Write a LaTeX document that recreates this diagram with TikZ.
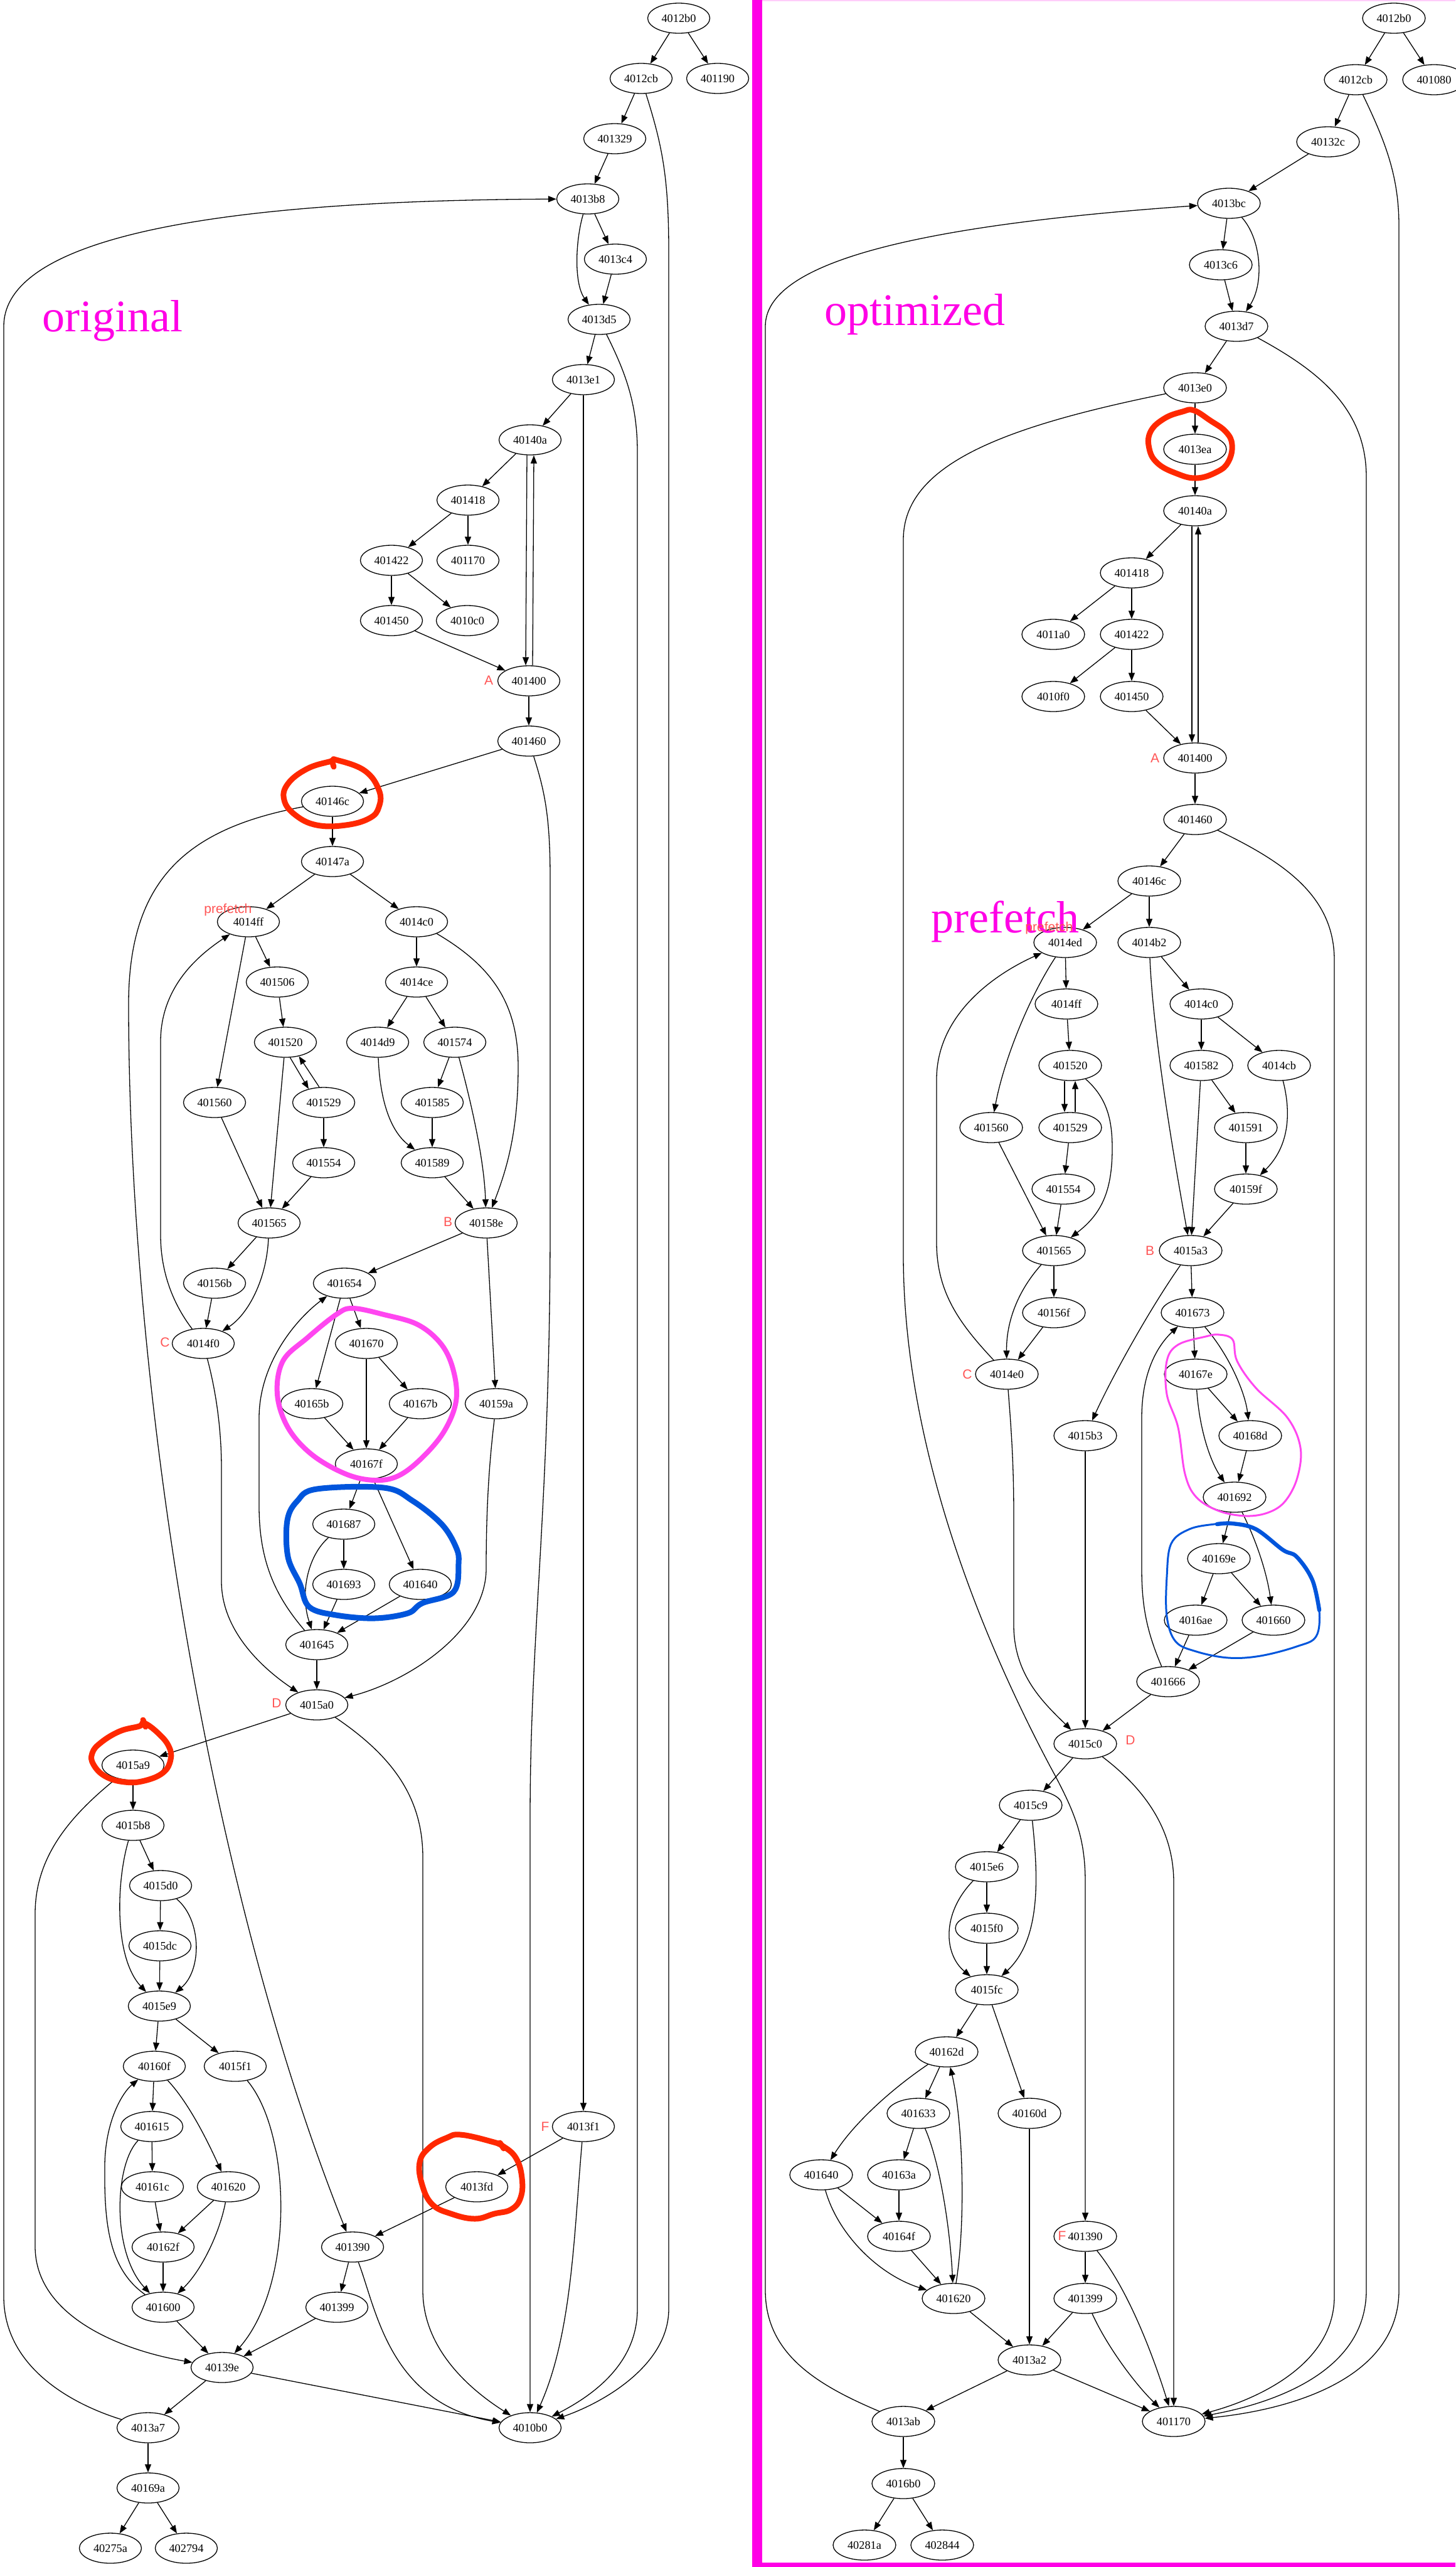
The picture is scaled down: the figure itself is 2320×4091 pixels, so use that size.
\documentclass[tikz,border=0pt]{standalone}
\usepackage{fontspec}
\setmainfont{Liberation Serif}
\newfontfamily\sansfam{Liberation Sans}
\usetikzlibrary{shapes.geometric,arrows.meta}
\definecolor{magbar}{RGB}{255,0,230}
\definecolor{magloop}{RGB}{255,70,240}
\definecolor{markred}{RGB}{255,40,0}
\definecolor{markblue}{RGB}{0,85,220}
\definecolor{lblred}{RGB}{255,85,85}
\definecolor{toppink}{RGB}{255,205,250}
\tikzset{
  gnodeL/.style={ellipse, draw, line width=0.65pt, minimum width=49.5pt, minimum height=24pt, inner sep=0pt, font=\fontsize{9.15}{10}\selectfont},
  gnodeR/.style={gnodeL, minimum width=50pt},
  gedge/.style={-{Triangle[length=6.5pt,width=5pt]}, line width=0.65pt},
  lbl/.style={font=\sansfam\fontsize{10.5}{12}\selectfont, text=lblred, inner sep=0pt},
  bigtxt/.style={font=\fontsize{36}{40}\selectfont, text=magbar, inner sep=0pt, anchor=base west},
  redmark/.style={draw=markred, line width=4.5pt, line cap=round, line join=round},
  magmark/.style={draw=magloop, line width=4pt, line cap=round, line join=round},
  bluemark/.style={draw=markblue, line width=4.5pt, line cap=round, line join=round},
}
\begin{document}
\begin{tikzpicture}[x=0.5pt,y=-0.5pt]
\useasboundingbox (0,0) rectangle (2320,4091);
\fill[white] (0,0) rectangle (2320,4091);
% frame
\fill[magbar] (1199,0) rectangle (1215,4091);
\fill[magbar] (1199,4084) rectangle (2320,4091);
\draw[toppink, line width=1pt] (1215,1) -- (2320,1);

% ---------------- LEFT GRAPH ----------------
\node[gnodeL] (L4012b0) at (1082,29) {4012b0};
\node[gnodeL] (L4012cb) at (1022,125) {4012cb};
\node[gnodeL] (L401190) at (1144,125) {401190};
\node[gnodeL] (L401329) at (980,221) {401329};
\node[gnodeL] (L4013b8) at (937,317) {4013b8};
\node[gnodeL] (L4013c4) at (981,413) {4013c4};
\node[gnodeL] (L4013d5) at (955,509) {4013d5};
\node[gnodeL] (L4013e1) at (930,605) {4013e1};
\node[gnodeL] (L40140a) at (845,701) {40140a};
\node[gnodeL] (L401418) at (746,797) {401418};
\node[gnodeL] (L401422) at (624,893) {401422};
\node[gnodeL] (L401170) at (746,893) {401170};
\node[gnodeL] (L401450) at (624,989) {401450};
\node[gnodeL] (L4010c0) at (745,989) {4010c0};
\node[gnodeL] (L401400) at (843,1085) {401400};
\node[gnodeL] (L401460) at (843,1181) {401460};
\node[gnodeL] (L40146c) at (530,1277) {40146c};
\node[gnodeL] (L40147a) at (530,1373) {40147a};
\node[gnodeL] (L4014ff) at (396,1469) {4014ff};
\node[gnodeL] (L4014c0) at (664,1469) {4014c0};
\node[gnodeL] (L401506) at (442,1565) {401506};
\node[gnodeL] (L4014ce) at (664,1565) {4014ce};
\node[gnodeL] (L401520) at (455,1661) {401520};
\node[gnodeL] (L4014d9) at (602,1661) {4014d9};
\node[gnodeL] (L401574) at (725,1661) {401574};
\node[gnodeL] (L401560) at (342,1757) {401560};
\node[gnodeL] (L401529) at (516,1757) {401529};
\node[gnodeL] (L401585) at (689,1757) {401585};
\node[gnodeL] (L401554) at (516,1853) {401554};
\node[gnodeL] (L401589) at (689,1853) {401589};
\node[gnodeL] (L401565) at (429,1949) {401565};
\node[gnodeL] (L40158e) at (775,1949) {40158e};
\node[gnodeL] (L40156b) at (342,2045) {40156b};
\node[gnodeL] (L401654) at (549,2045) {401654};
\node[gnodeL] (L4014f0) at (324,2141) {4014f0};
\node[gnodeL] (L401670) at (584,2141) {401670};
\node[gnodeL] (L40165b) at (497,2237) {40165b};
\node[gnodeL] (L40167b) at (670,2237) {40167b};
\node[gnodeL] (L40159a) at (791,2237) {40159a};
\node[gnodeL] (L40167f) at (584,2333) {40167f};
\node[gnodeL] (L401687) at (548,2429) {401687};
\node[gnodeL] (L401693) at (548,2525) {401693};
\node[gnodeL] (L401640) at (670,2525) {401640};
\node[gnodeL] (L401645) at (505,2621) {401645};
\node[gnodeL] (L4015a0) at (505,2717) {4015a0};
\node[gnodeL] (L4015a9) at (212,2813) {4015a9};
\node[gnodeL] (L4015b8) at (212,2909) {4015b8};
\node[gnodeL] (L4015d0) at (256,3005) {4015d0};
\node[gnodeL] (L4015dc) at (255,3101) {4015dc};
\node[gnodeL] (L4015e9) at (254,3197) {4015e9};
\node[gnodeL] (L40160f) at (246,3293) {40160f};
\node[gnodeL] (L4015f1) at (375,3293) {4015f1};
\node[gnodeL] (L4013f1) at (930,3389) {4013f1};
\node[gnodeL] (L401615) at (242,3389) {401615};
\node[gnodeL] (L40161c) at (243,3485) {40161c};
\node[gnodeL] (L401620) at (364,3485) {401620};
\node[gnodeL] (L4013fd) at (760,3485) {4013fd};
\node[gnodeL] (L40162f) at (260,3581) {40162f};
\node[gnodeL] (L401390) at (562,3581) {401390};
\node[gnodeL] (L401600) at (260,3677) {401600};
\node[gnodeL] (L401399) at (537,3677) {401399};
\node[gnodeL] (L40139e) at (354,3773) {40139e};
\node[gnodeL] (L4013a7) at (236,3869) {4013a7};
\node[gnodeL] (L4010b0) at (845,3869) {4010b0};
\node[gnodeL] (L40169a) at (236,3965) {40169a};
\node[gnodeL] (L40275a) at (176,4061) {40275a};
\node[gnodeL] (L402794) at (297,4061) {402794};

\foreach \a/\b in {L4012b0/L4012cb, L4012b0/L401190, L4012cb/L401329, L401329/L4013b8,
  L4013b8/L4013c4, L4013c4/L4013d5, L4013d5/L4013e1, L4013e1/L40140a, L4013e1/L4013f1,
  L40140a/L401418, L401418/L401422, L401418/L401170, L401422/L401450, L401422/L4010c0,
  L401450/L401400, L401400/L401460, L401460/L40146c, L40146c/L40147a, L40147a/L4014ff,
  L40147a/L4014c0, L4014ff/L401506, L4014ff/L401560, L401506/L401520, L401520/L401565,
  L401529/L401554, L401560/L401565, L401554/L401565, L4014c0/L4014ce, L4014ce/L4014d9,
  L4014ce/L401574, L401574/L401585, L401585/L401589, L401589/L40158e, L401565/L40156b,
  L40156b/L4014f0, L40158e/L401654, L40158e/L40159a, L401654/L40165b, L401654/L401670,
  L401670/L40167f, L401670/L40167b, L40165b/L40167f, L40167b/L40167f, L40167f/L401687,
  L40167f/L401640, L401687/L401693, L401693/L401645, L401640/L401645, L401645/L4015a0,
  L4015a0/L4015a9, L4015a9/L4015b8, L4015b8/L4015d0, L4015d0/L4015dc, L4015dc/L4015e9,
  L4015e9/L40160f, L4015e9/L4015f1, L40160f/L401615, L401615/L40161c, L40161c/L40162f,
  L401620/L40162f, L40162f/L401600, L401600/L40139e, L4013f1/L4013fd, L4013fd/L401390,
  L401390/L401399, L401399/L40139e, L40139e/L4013a7, L40139e/L4010b0, L4013a7/L40169a,
  L40169a/L40275a, L40169a/L402794}
  \draw[gedge] (\a) -- (\b);

\draw[gedge] (L4012cb) .. controls (1055,230) and (1066,280) .. (1066,400) -- (1066,3680) .. controls (1066,3770) and (960,3830) .. (L4010b0);
\draw[gedge] (L4013b8) .. controls (918,380) and (914,450) .. (L4013d5);
\draw[gedge] (L4013d5) .. controls (995,590) and (1016,640) .. (1016,720) -- (1016,3680) .. controls (1016,3770) and (940,3820) .. (L4010b0);
\draw[gedge] ([xshift=-2.5pt]L40140a.south) -- ([xshift=-2.5pt]L401400.north);
\draw[gedge] ([xshift=3pt]L401400.north) -- ([xshift=3pt]L40140a.south);
\draw[gedge] (L401460) .. controls (868,1260) and (877,1300) .. (877,1400) -- (877,1950) .. controls (877,2400) and (845,2600) .. (845,2900) -- (L4010b0);
\draw[gedge] (L40146c) .. controls (300,1320) and (205,1400) .. (205,1600) .. controls (205,2200) and (330,3000) .. (L401390);
\draw[gedge] (L4014f0) .. controls (285,2090) and (256,2040) .. (256,1968) -- (256,1660) .. controls (256,1570) and (320,1520) .. (L4014ff);
\draw[gedge] (L401520.-73) -- (L401529.138);
\draw[gedge] (L401529.106) -- (L401520.-46);
\draw[gedge] (L4014c0) .. controls (785,1540) and (826,1600) .. (826,1700) .. controls (826,1810) and (805,1870) .. (L40158e);
\draw[gedge] (L4014d9) .. controls (606,1760) and (625,1805) .. (L401589);
\draw[gedge] (L401574) .. controls (752,1760) and (772,1850) .. (L40158e);
\draw[gedge] (L401565) .. controls (425,2040) and (395,2095) .. (L4014f0);
\draw[gedge] (L4014f0) .. controls (345,2220) and (353,2280) .. (353,2340) -- (353,2520) .. controls (353,2600) and (420,2660) .. (L4015a0);
\draw[gedge] (L401645) .. controls (440,2545) and (413,2490) .. (413,2400) -- (413,2260) .. controls (413,2170) and (475,2100) .. (L401654);
\draw[gedge] (L401687) .. controls (490,2480) and (478,2540) .. (L401645);
\draw[gedge] (L40159a) .. controls (780,2330) and (775,2400) .. (775,2500) .. controls (775,2600) and (650,2680) .. (L4015a0);
\draw[gedge] (L4015a0) .. controls (620,2795) and (674,2860) .. (674,2960) -- (674,3650) .. controls (674,3750) and (760,3815) .. (L4010b0);
\draw[gedge] (L4015a9) .. controls (110,2895) and (56,2960) .. (56,3050) -- (56,3580) .. controls (56,3690) and (190,3745) .. (L40139e);
\draw[gedge] (L4015b8) .. controls (185,3000) and (182,3120) .. (L4015e9);
\draw[gedge] (L4015d0) .. controls (322,3060) and (322,3140) .. (L4015e9);
\draw[gedge] (L401600) .. controls (172,3615) and (166,3540) .. (167,3450) .. controls (168,3380) and (195,3335) .. (L40160f);
\draw[gedge] (L401615) .. controls (182,3450) and (178,3590) .. (L401600);
\draw[gedge] (L40160f) .. controls (300,3350) and (330,3410) .. (L401620);
\draw[gedge] (L401620) .. controls (350,3560) and (320,3620) .. (L401600);
\draw[gedge] (L4015f1) .. controls (465,3400) and (470,3640) .. (L40139e);
\draw[gedge] (L4013f1) .. controls (915,3560) and (912,3720) .. (L4010b0);
\draw[gedge] (L401390) .. controls (600,3680) and (620,3830) .. (L4010b0);
\draw[gedge] (L4013a7) .. controls (110,3830) and (6,3770) .. (6,3660) -- (6,520) .. controls (6,400) and (250,320) .. (L4013b8);

% ---------------- RIGHT GRAPH ----------------
\node[gnodeR] (R4012b0) at (2222,29) {4012b0};
\node[gnodeR] (R4012cb) at (2161,127) {4012cb};
\node[gnodeR] (R401080) at (2286,127) {401080};
\node[gnodeR] (R40132c) at (2117,226) {40132c};
\node[gnodeR] (R4013bc) at (1959,324) {4013bc};
\node[gnodeR] (R4013c6) at (1946,422) {4013c6};
\node[gnodeR] (R4013d7) at (1971,520) {4013d7};
\node[gnodeR] (R4013e0) at (1905,618) {4013e0};
\node[gnodeR] (R4013ea) at (1905,716) {4013ea};
\node[gnodeR] (R40140a) at (1905,814) {40140a};
\node[gnodeR] (R401418) at (1804,913) {401418};
\node[gnodeR] (R4011a0) at (1679,1011) {4011a0};
\node[gnodeR] (R401422) at (1804,1011) {401422};
\node[gnodeR] (R4010f0) at (1679,1110) {4010f0};
\node[gnodeR] (R401450) at (1804,1110) {401450};
\node[gnodeR] (R401400) at (1905,1208) {401400};
\node[gnodeR] (R401460) at (1905,1306) {401460};
\node[gnodeR] (R40146c) at (1832,1404) {40146c};
\node[gnodeR] (R4014ed) at (1698,1502) {4014ed};
\node[gnodeR] (R4014b2) at (1832,1502) {4014b2};
\node[gnodeR] (R4014ff) at (1700,1600) {4014ff};
\node[gnodeR] (R4014c0) at (1915,1600) {4014c0};
\node[gnodeR] (R401520) at (1706,1698) {401520};
\node[gnodeR] (R401582) at (1915,1698) {401582};
\node[gnodeR] (R4014cb) at (2039,1698) {4014cb};
\node[gnodeR] (R401560) at (1580,1797) {401560};
\node[gnodeR] (R401529) at (1706,1797) {401529};
\node[gnodeR] (R401591) at (1986,1797) {401591};
\node[gnodeR] (R401554) at (1695,1895) {401554};
\node[gnodeR] (R40159f) at (1986,1895) {40159f};
\node[gnodeR] (R401565) at (1680,1993) {401565};
\node[gnodeR] (R4015a3) at (1898,1993) {4015a3};
\node[gnodeR] (R40156f) at (1680,2092) {40156f};
\node[gnodeR] (R401673) at (1901,2092) {401673};
\node[gnodeR] (R4014e0) at (1605,2190) {4014e0};
\node[gnodeR] (R40167e) at (1906,2190) {40167e};
\node[gnodeR] (R4015b3) at (1730,2288) {4015b3};
\node[gnodeR] (R40168d) at (1993,2288) {40168d};
\node[gnodeR] (R401692) at (1968,2386) {401692};
\node[gnodeR] (R40169e) at (1943,2484) {40169e};
\node[gnodeR] (R4016ae) at (1906,2582) {4016ae};
\node[gnodeR] (R401660) at (2030,2582) {401660};
\node[gnodeR] (R401666) at (1862,2680) {401666};
\node[gnodeR] (R4015c0) at (1730,2779) {4015c0};
\node[gnodeR] (R4015c9) at (1643,2877) {4015c9};
\node[gnodeR] (R4015e6) at (1573,2975) {4015e6};
\node[gnodeR] (R4015f0) at (1573,3073) {4015f0};
\node[gnodeR] (R4015fc) at (1573,3171) {4015fc};
\node[gnodeR] (R40162d) at (1509,3270) {40162d};
\node[gnodeR] (R401633) at (1464,3368) {401633};
\node[gnodeR] (R40160d) at (1641,3368) {40160d};
\node[gnodeR] (R401640) at (1309,3466) {401640};
\node[gnodeR] (R40163a) at (1433,3466) {40163a};
\node[gnodeR] (R40164f) at (1433,3564) {40164f};
\node[gnodeR] (R401390) at (1730,3564) {401390};
\node[gnodeR] (R401620) at (1520,3663) {401620};
\node[gnodeR] (R401399) at (1730,3663) {401399};
\node[gnodeR] (R4013a2) at (1641,3761) {4013a2};
\node[gnodeR] (R4013ab) at (1440,3859) {4013ab};
\node[gnodeR] (R401170) at (1871,3859) {401170};
\node[gnodeR] (R4016b0) at (1440,3958) {4016b0};
\node[gnodeR] (R40281a) at (1378,4056) {40281a};
\node[gnodeR] (R402844) at (1502,4056) {402844};

\foreach \a/\b in {R4012b0/R4012cb, R4012b0/R401080, R4012cb/R40132c, R40132c/R4013bc,
  R4013bc/R4013c6, R4013c6/R4013d7, R4013d7/R4013e0, R4013e0/R4013ea, R4013ea/R40140a,
  R40140a/R401418, R401418/R4011a0, R401418/R401422, R401422/R4010f0, R401422/R401450,
  R401450/R401400, R401400/R401460, R401460/R40146c, R40146c/R4014ed, R40146c/R4014b2,
  R4014ed/R4014ff, R4014b2/R4014c0, R4014ff/R401520, R4014c0/R401582, R4014c0/R4014cb,
  R401529/R401554, R401560/R401565, R401554/R401565, R401582/R401591, R401582/R4015a3,
  R401591/R40159f, R40159f/R4015a3, R401565/R40156f, R40156f/R4014e0, R4015a3/R401673,
  R401673/R40167e, R40167e/R40168d, R40168d/R401692, R401692/R40169e, R40169e/R4016ae,
  R40169e/R401660, R4016ae/R401666, R401660/R401666, R401666/R4015c0, R4015b3/R4015c0,
  R4015c0/R4015c9, R4015c9/R4015e6, R4015e6/R4015f0, R4015f0/R4015fc, R4015fc/R40162d,
  R4015fc/R40160d, R40162d/R401633, R401633/R40163a, R40163a/R40164f, R401640/R40164f,
  R40164f/R401620, R401620/R4013a2, R40160d/R4013a2, R401390/R401399, R401399/R4013a2,
  R4013a2/R4013ab, R4013a2/R401170, R4013ab/R4016b0, R4016b0/R40281a, R4016b0/R402844}
  \draw[gedge] (\a) -- (\b);

\draw[gedge] (R4012cb) .. controls (2208,225) and (2230,280) .. (2230,360) -- (2230,3650) .. controls (2230,3790) and (2060,3840) .. (R401170);
\draw[gedge] (R4013d7) .. controls (2100,590) and (2178,650) .. (2178,760) -- (2178,3650) .. controls (2178,3780) and (2030,3830) .. (R401170);
\draw[gedge] (R401460) .. controls (2050,1375) and (2127,1430) .. (2127,1530) -- (2127,3660) .. controls (2127,3770) and (2000,3825) .. (R401170);
\draw[gedge] (R4013e0) .. controls (1600,680) and (1440,740) .. (1440,860) -- (1440,2000) .. controls (1440,2300) and (1560,2600) .. (1674,2815) .. controls (1715,2890) and (1730,2930) .. (1730,3000) -- (R401390);
\draw[gedge] (R4013bc) .. controls (2010,380) and (2016,450) .. (R4013d7);
\draw[gedge] ([xshift=-2.5pt]R40140a.south) -- ([xshift=-2.5pt]R401400.north);
\draw[gedge] ([xshift=2.5pt]R401400.north) -- ([xshift=2.5pt]R40140a.south);
\draw[gedge] (R4014e0) .. controls (1530,2110) and (1493,2060) .. (1493,1980) -- (1493,1720) .. controls (1493,1620) and (1580,1555) .. (R4014ed);
\draw[gedge] (R4014ed) .. controls (1640,1590) and (1600,1690) .. (R401560);
\draw[gedge] (R4014b2) .. controls (1838,1650) and (1872,1850) .. (R4015a3);
\draw[gedge] ([xshift=-4.5pt]R401520.south) -- ([xshift=-4.5pt]R401529.north);
\draw[gedge] ([xshift=4pt]R401529.north) -- ([xshift=4pt]R401520.south);
\draw[gedge] (R401520) .. controls (1765,1750) and (1773,1785) .. (1773,1830) .. controls (1773,1900) and (1755,1935) .. (R401565);
\draw[gedge] (R4014cb) .. controls (2060,1780) and (2052,1830) .. (R40159f);
\draw[gedge] (R401565) .. controls (1620,2060) and (1604,2110) .. (R4014e0);
\draw[gedge] (R4014e0) .. controls (1614,2300) and (1616,2350) .. (1616,2420) -- (1616,2590) .. controls (1616,2670) and (1665,2715) .. (R4015c0);
\draw[gedge] (R4015a3) .. controls (1830,2090) and (1770,2200) .. (R4015b3);
\draw[gedge] (R401673) .. controls (1960,2160) and (1985,2220) .. (R40168d);
\draw[gedge] (R40167e) .. controls (1912,2280) and (1930,2330) .. (R401692);
\draw[gedge] (R401666) .. controls (1828,2600) and (1820,2560) .. (1820,2500) -- (1820,2260) .. controls (1820,2180) and (1850,2140) .. (R401673);
\draw[gedge] (R401692) .. controls (2005,2460) and (2020,2510) .. (R401660);
\draw[gedge] (R4015c0) .. controls (1830,2855) and (1871,2920) .. (1871,3000) -- (R401170);
\draw[gedge] (R4015c9) .. controls (1655,2990) and (1660,3090) .. (R4015fc);
\draw[gedge] (R4015e6) .. controls (1500,3050) and (1505,3115) .. (R4015fc);
\draw[gedge] (R40162d) .. controls (1420,3330) and (1360,3385) .. (R401640);
\draw[gedge] (R401620) .. controls (1540,3540) and (1535,3380) .. (R40162d);
\draw[gedge] (R401633) .. controls (1500,3450) and (1515,3560) .. (R401620);
\draw[gedge] (R401640) .. controls (1335,3560) and (1400,3625) .. (R401620);
\draw[gedge] (R401390) .. controls (1800,3650) and (1840,3760) .. (R401170);
\draw[gedge] (R401399) .. controls (1765,3740) and (1810,3800) .. (R401170);
\draw[gedge] (R4013ab) .. controls (1300,3800) and (1220,3750) .. (1220,3650) -- (1220,520) .. controls (1220,420) and (1450,360) .. (R4013bc);

% ---------------- LABELS ----------------
\node[bigtxt] (toriginal) at (67,528) {original};
\node[bigtxt] (toptimized) at (1314,518) {optimized};
\node[bigtxt] (tprefetch) at (1484,1486) {prefetch};
\node[lbl, anchor=base west] (pfL) at (325,1455) {prefetch};
\node[lbl, anchor=base west] (pfR) at (1634,1484) {prefetch};
\node[lbl] (aL) at (779,1084) {A};
\node[lbl] (bL) at (714,1947) {B};
\node[lbl] (cL) at (263,2139) {C};
\node[lbl] (dL) at (441,2714) {D};
\node[lbl] (fL) at (869,3389) {F};
\node[lbl] (aR) at (1841,1208) {A};
\node[lbl] (bR) at (1833,1993) {B};
\node[lbl] (cR) at (1542,2190) {C};
\node[lbl] (dR) at (1802,2773) {D};
\node[lbl] (fR) at (1693,3563) {F};

% ---------------- ANNOTATIONS ----------------
\draw[redmark] plot[smooth cycle, tension=0.7] coordinates {(536,1211) (581,1228) (604,1259) (604,1286) (589,1304) (551,1315) (505,1315) (471,1299) (453,1275) (459,1249) (490,1225) (528,1213)};
\draw[redmark] (529,1212) -- (532,1222);
\draw[redmark] plot[smooth cycle, tension=0.7] coordinates {(230,2746) (252,2762) (269,2783) (272,2804) (260,2825) (230,2838) (199,2840) (168,2831) (149,2812) (147,2794) (161,2777) (191,2759) (222,2751)};
\draw[redmark] (228,2741) -- (232,2752);
\draw[redmark] plot[smooth cycle, tension=0.7] coordinates {(734,3402) (780,3412) (803,3421) (823,3440) (832,3471) (830,3502) (815,3521) (788,3528) (757,3536) (719,3528) (689,3513) (673,3482) (669,3446) (685,3422) (712,3407)};
\draw[redmark] (797,3415) -- (803,3424);
\draw[redmark] plot[smooth cycle, tension=0.7] coordinates {(1903,654) (1929,670) (1954,688) (1964,709) (1958,736) (1940,752) (1907,762) (1874,754) (1845,738) (1832,715) (1834,688) (1856,667) (1885,656)};
\draw[magmark] plot[smooth cycle, tension=0.6] coordinates {(562,2085) (612,2095) (666,2111) (704,2143) (723,2185) (727,2233) (708,2281) (673,2323) (635,2352) (597,2359) (551,2349) (497,2318) (459,2275) (442,2222) (451,2169) (490,2132) (536,2095)};
\draw[bluemark] plot[smooth cycle, tension=0.6] coordinates {(505,2373) (612,2371) (658,2392) (704,2429) (727,2466) (731,2492) (723,2537) (673,2555) (650,2571) (597,2579) (536,2574) (493,2561) (478,2524) (459,2481) (458,2423) (474,2392)};
\draw[draw=magloop, line width=1.5pt] plot[smooth cycle, tension=0.6] coordinates {(1943,2127) (1965,2135) (1972,2169) (2002,2212) (2052,2259) (2073,2307) (2068,2355) (2049,2392) (2023,2410) (1987,2416) (1943,2408) (1907,2386) (1889,2349) (1878,2275) (1860,2222) (1860,2169) (1878,2143) (1922,2130)};
\draw[draw=markblue, line width=1.5pt] plot[smooth cycle, tension=0.6] coordinates {(1896,2437) (1936,2429) (1965,2428) (2002,2437) (2045,2470) (2067,2481) (2092,2518) (2103,2566) (2098,2608) (2067,2624) (2009,2639) (1958,2642) (1907,2632) (1874,2616) (1860,2576) (1860,2513) (1867,2460)};
\draw[draw=markblue, line width=3.2pt, line cap=round] plot[smooth, tension=0.6] coordinates {(1940,2429) (1965,2428) (2002,2437) (2045,2470) (2067,2481) (2092,2518) (2103,2566)};
\end{tikzpicture}
\end{document}
